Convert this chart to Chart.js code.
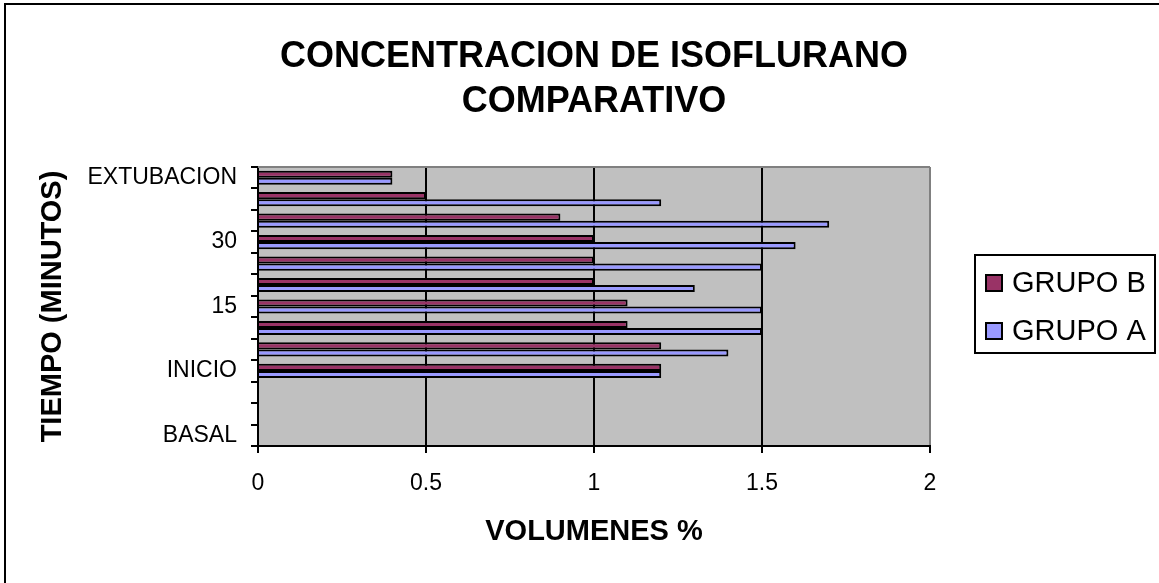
<!DOCTYPE html>
<html>
<head>
<meta charset="utf-8">
<title>Concentracion de isoflurano</title>
<script src="https://cdn.jsdelivr.net/npm/chart.js@4/dist/chart.umd.min.js"></script>
<style>
  html, body { margin: 0; padding: 0; background: #fff; }
  #wrap { width: 1159px; height: 583px; }
</style>
</head>
<body>
<div id="wrap"><canvas id="grafico" width="1159" height="583"></canvas></div>
<script>
// --- datos (orden cronologico, de BASAL a EXTUBACION) ---
const tiempos = ['BASAL', '', '', 'INICIO', '', '', '15', '', '', '30', '', '', 'EXTUBACION'];
const grupoB = [null, null, null, 1.2, 1.2, 1.1, 1.1, 1.0, 1.0, 1.0, 0.9, 0.5, 0.4];
const grupoA = [null, null, null, 1.2, 1.4, 1.5, 1.5, 1.3, 1.5, 1.6, 1.7, 1.2, 0.4];
const ticksVolumen = [0, 0.5, 1, 1.5, 2];

const tituloLineas = ['CONCENTRACION DE ISOFLURANO', 'COMPARATIVO'];
const tituloX = 'VOLUMENES %';
const tituloY = 'TIEMPO (MINUTOS)';

const FUENTE = '"Liberation Sans", Arial, sans-serif';

// el eje de categorias va de arriba hacia abajo, por eso se invierten
const etiquetas = tiempos.slice().reverse();

// fondo, marco exterior, titulos y leyenda
const decorado = {
    id: 'decorado',
    beforeDraw(chart) {
        const { ctx, chartArea: a, width, height } = chart;
        ctx.save();
        ctx.fillStyle = '#fff';
        ctx.fillRect(0, 0, width, height);

        // marco exterior (solo izquierda y arriba quedan dentro)
        ctx.strokeStyle = '#000';
        ctx.lineWidth = 2;
        ctx.beginPath();
        ctx.moveTo(5, height);
        ctx.lineTo(5, 4);
        ctx.lineTo(width, 4);
        ctx.stroke();

        // area de trazado gris
        ctx.fillStyle = '#c0c0c0';
        ctx.fillRect(a.left, a.top, a.right - a.left, a.bottom - a.top);
        ctx.restore();
    },
    afterDraw(chart) {
        const { ctx, chartArea: a } = chart;
        const cx = (a.left + a.right) / 2;
        ctx.save();

        // borde superior del area de trazado
        ctx.strokeStyle = '#808080';
        ctx.lineWidth = 2;
        ctx.beginPath();
        ctx.moveTo(a.left, a.top);
        ctx.lineTo(a.right, a.top);
        ctx.stroke();

        ctx.fillStyle = '#000';
        ctx.textAlign = 'center';
        ctx.textBaseline = 'middle';

        // titulo
        ctx.font = 'bold 36px ' + FUENTE;
        ctx.fillText(tituloLineas[0], cx, 57);
        ctx.fillText(tituloLineas[1], cx, 102);

        // titulo eje X
        ctx.font = 'bold 29px ' + FUENTE;
        ctx.fillText(tituloX, cx, 532);

        // titulo eje Y
        ctx.save();
        ctx.translate(53, (a.top + a.bottom) / 2);
        ctx.rotate(-Math.PI / 2);
        ctx.fillText(tituloY, 0, 0);
        ctx.restore();

        // leyenda
        ctx.lineWidth = 2;
        ctx.strokeStyle = '#000';
        ctx.strokeRect(975, 255, 180, 98);
        ctx.textAlign = 'left';
        ctx.font = '29px ' + FUENTE;
        chart.data.datasets.forEach((ds, i) => {
            const y = 283 + i * 48;
            ctx.fillStyle = ds.backgroundColor;
            ctx.fillRect(986, y - 8, 16, 16);
            ctx.lineWidth = 2;
            ctx.strokeRect(986, y - 8, 16, 16);
            ctx.fillStyle = '#000';
            ctx.fillText(ds.label, 1012, y + 1);
        });
        ctx.restore();
    }
};

new Chart(document.getElementById('grafico'), {
    type: 'bar',
    data: {
        labels: etiquetas,
        datasets: [
            {
                label: 'GRUPO B',
                data: grupoB.slice().reverse(),
                backgroundColor: '#993366',
                borderColor: '#000',
                borderWidth: 2
            },
            {
                label: 'GRUPO A',
                data: grupoA.slice().reverse(),
                backgroundColor: '#9999ff',
                borderColor: '#000',
                borderWidth: 2
            }
        ]
    },
    options: {
        indexAxis: 'y',
        responsive: false,
        animation: false,
        devicePixelRatio: 1,
        categoryPercentage: 0.66,
        barPercentage: 1.0,
        layout: { padding: { top: 167, right: 229, left: 0, bottom: 0 } },
        plugins: {
            legend: { display: false },
            tooltip: { enabled: false }
        },
        scales: {
            x: {
                min: 0,
                max: 2,
                afterFit: s => { s.height = 137; },
                afterBuildTicks: s => { s.ticks = ticksVolumen.map(v => ({ value: v })); },
                ticks: {
                    color: '#000',
                    font: { family: FUENTE, size: 23 },
                    padding: 17,
                    callback: v => String(v)
                },
                grid: {
                    color: ctx => (ctx.tick && ctx.tick.value === 2 ? '#808080' : '#000'),
                    tickColor: '#000',
                    lineWidth: 2,
                    tickLength: 7
                },
                border: { display: true, color: '#000', width: 2 }
            },
            y: {
                afterFit: s => { s.width = 258; },
                ticks: {
                    color: '#000',
                    autoSkip: false,
                    font: { family: FUENTE, size: 23 },
                    padding: 14
                },
                grid: {
                    offset: true,
                    drawOnChartArea: false,
                    color: '#000',
                    lineWidth: 2,
                    tickLength: 7
                },
                border: { display: true, color: '#000', width: 2 }
            }
        }
    },
    plugins: [decorado]
});
</script>
</body>
</html>
